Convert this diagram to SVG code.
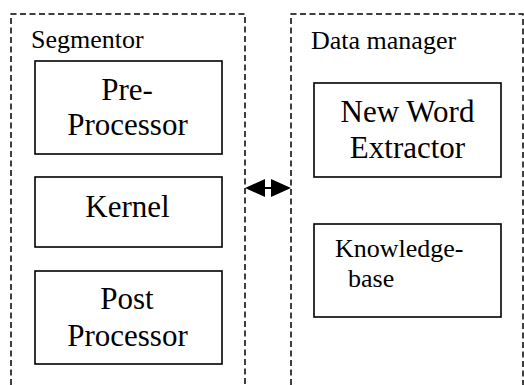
<svg xmlns="http://www.w3.org/2000/svg" width="524" height="385" viewBox="0 0 524 385">
<style>
.grp{fill:none;stroke:#000;stroke-width:1.5;stroke-dasharray:6,3.5}
.box{fill:#fff;stroke:#000;stroke-width:1.6}
text{font-family:'Liberation Serif','Times New Roman',serif;fill:#000}
.big{font-size:31px;text-anchor:middle}
.lab{font-size:26px}
</style>
<rect width="524" height="385" fill="#fff"/>
<g id="segmentor">
<path class="grp" d="M11,385 V14 H245 V385"/>
<text class="lab" x="31" y="48">Segmentor</text>
</g>
<g id="data-manager">
<path class="grp" d="M291,385 V14 H523 V385"/>
<text class="lab" x="311" y="49">Data manager</text>
</g>
<g id="pre-processor">
<rect class="box" x="35" y="61" width="187" height="93"/>
<text class="big" x="127" y="100">Pre-</text>
<text class="big" x="127.5" y="135">Processor</text>
</g>
<g id="kernel">
<rect class="box" x="35" y="177" width="187" height="70"/>
<text class="big" x="127.5" y="217">Kernel</text>
</g>
<g id="post-processor">
<rect class="box" x="35" y="271" width="187" height="93"/>
<text class="big" x="127" y="309">Post</text>
<text class="big" x="127.5" y="346">Processor</text>
</g>
<g id="new-word-extractor">
<rect class="box" x="314" y="83" width="187" height="94"/>
<text class="big" x="407.5" y="122">New Word</text>
<text class="big" x="407.5" y="158">Extractor</text>
</g>
<g id="knowledge-base">
<rect class="box" x="314" y="224" width="187" height="93"/>
<text class="lab" x="335" y="257">Knowledge-</text>
<text class="lab" x="348" y="287">base</text>
</g>
<g id="connectors">
<line x1="262" y1="188" x2="274" y2="188" stroke="#000" stroke-width="2"/>
<polygon points="245,188 265,179 265,197" fill="#000"/>
<polygon points="291,188 271,179 271,197" fill="#000"/>
</g>
</svg>
